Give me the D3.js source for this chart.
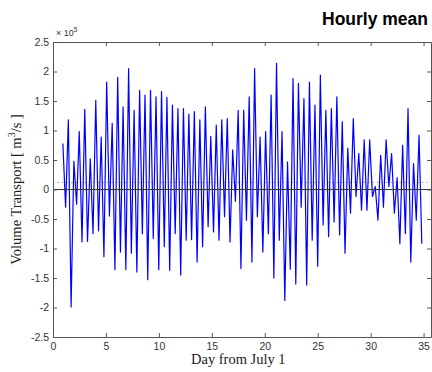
<!DOCTYPE html>
<html lang="en">
<head>
    <meta charset="UTF-8">
    <title>Hourly mean</title>
    <style>
        body { margin: 0; padding: 0; background: #fff; }
        svg { display: block; }
        .tick-label { font-family: Arial, "Liberation Sans", sans-serif; font-size: 10.5px; fill: #333; }
        .axis-title { font-family: "Liberation Serif", "DejaVu Serif", serif; font-size: 14.5px; fill: #222; }
        .title { font-family: Arial, "Liberation Sans", sans-serif; font-size: 17.5px; font-weight: 700; fill: #000; }
    </style>
</head>
<body>
    <svg id="chart" width="432" height="372"></svg>

    <script src="https://cdnjs.cloudflare.com/ajax/libs/d3/7.9.0/d3.min.js"></script>
    <script>
        // turning points of the hourly series (x 10^5 m^3/s)
        const peakDay = [0.93, 1.45, 1.97, 2.48, 3.00, 3.52, 4.04, 4.55, 5.07, 5.59, 6.11, 6.62,
            7.14, 7.66, 8.18, 8.69, 9.21, 9.73, 10.25, 10.76, 11.28, 11.80, 12.32, 12.83,
            13.35, 13.87, 14.39, 14.90, 15.42, 15.94, 16.46, 16.97, 17.49, 18.01, 18.53, 19.04,
            19.56, 20.08, 20.60, 21.11, 21.63, 22.15, 22.67, 23.18, 23.70, 24.22, 24.74, 25.25,
            25.77, 26.29, 26.81, 27.32, 27.84, 28.36, 28.88, 29.39, 29.91, 30.43, 30.95, 31.46,
            31.98, 32.50, 33.02, 33.53, 34.05, 34.57];
        const peakVal = [0.78, 1.18, 0.48, 0.98, 1.36, 0.52, 1.51, 0.89, 1.82, 1.12, 1.90, 1.40,
            2.05, 1.34, 1.68, 1.60, 1.68, 1.57, 1.66, 1.56, 1.43, 1.37, 1.37, 1.28,
            1.32, 1.18, 1.40, 0.90, 1.09, 1.18, 1.20, 0.67, 1.34, 1.34, 1.57, 2.05,
            0.89, 0.98, 1.60, 2.14, 0.98, 0.47, 1.88, 1.80, 1.54, 1.82, 1.43, 1.94,
            1.34, 1.37, 1.57, 1.15, 0.70, 1.20, 0.61, 0.84, 0.84, 0.05, 0.58, 0.84,
            0.61, 0.20, 0.75, 1.37, 0.44, 0.92];
        const troughDay = [1.19, 1.71, 2.23, 2.74, 3.26, 3.78, 4.30, 4.81, 5.33, 5.85, 6.37, 6.88,
            7.40, 7.92, 8.44, 8.95, 9.47, 9.99, 10.51, 11.02, 11.54, 12.06, 12.58, 13.09,
            13.61, 14.13, 14.65, 15.16, 15.68, 16.20, 16.72, 17.23, 17.75, 18.27, 18.79, 19.30,
            19.82, 20.34, 20.86, 21.37, 21.89, 22.41, 22.93, 23.44, 23.96, 24.48, 25.00, 25.51,
            26.03, 26.55, 27.07, 27.58, 28.10, 28.62, 29.14, 29.65, 30.17, 30.69, 31.21, 31.72,
            32.24, 32.76, 33.28, 33.79, 34.31, 34.83];
        const troughVal = [-0.30, -1.99, -0.25, -0.89, -0.88, -0.75, -0.70, -1.14, -0.45, -1.36, -1.06, -1.36,
            -1.08, -1.40, -0.75, -1.53, -0.83, -1.36, -0.97, -1.37, -0.75, -1.45, -0.86, -0.85,
            -1.23, -0.97, -0.63, -0.72, -0.86, -0.46, -0.89, -0.20, -1.34, -0.52, -1.23, -0.46,
            -1.06, -0.75, -1.50, -0.86, -1.88, -1.35, -1.60, -0.30, -1.62, -0.86, -1.30, -0.60,
            -0.80, -0.55, -0.77, -1.08, -0.40, -0.12, -0.35, -0.35, -0.12, -0.52, -0.30, 0.05,
            -0.40, -0.92, -0.75, -1.23, -0.52, -0.92];
        const meanVal = 0.12;

        const xTicks = [0, 5, 10, 15, 20, 25, 30, 35];
        const yTicks = [-2.5, -2, -1.5, -1, -0.5, 0, 0.5, 1, 1.5, 2, 2.5];

        const mLeft = 53, mRight = 431, mTop = 42, mBottom = 337;

        const svg = d3.select('#chart');

        const x = d3.scaleLinear().domain([0, 35.7]).range([mLeft, mRight]);
        const y = d3.scaleLinear().domain([-2.5, 2.5]).range([mBottom, mTop]);

        // merge peaks and troughs into one time ordered series
        const series = [];
        peakDay.forEach((d, i) => {
            series.push([d, peakVal[i]]);
            series.push([troughDay[i], troughVal[i]]);
        });
        series.sort((a, b) => a[0] - b[0]);

        svg.append('rect')
            .attr('width', 432).attr('height', 372).attr('fill', '#fff');

        // mean (dotted) and zero line
        svg.append('line')
            .attr('x1', mLeft).attr('x2', mRight)
            .attr('y1', y(meanVal)).attr('y2', y(meanVal))
            .attr('stroke', '#9a9a9a').attr('stroke-width', 1)
            .attr('stroke-dasharray', '1.5,3');

        svg.append('path')
            .datum(series)
            .attr('fill', 'none')
            .attr('stroke', '#0000ff')
            .attr('stroke-width', 1.2)
            .attr('stroke-linejoin', 'round')
            .attr('d', d3.line().x(d => x(d[0])).y(d => y(d[1])));

        svg.append('line')
            .attr('x1', mLeft).attr('x2', mRight)
            .attr('y1', y(0)).attr('y2', y(0))
            .attr('stroke', '#333').attr('stroke-width', 1.2);

        // axes, MATLAB style box with inward ticks
        const tickLen = 4;
        const fmt = d => String(d);
        svg.append('g')
            .attr('transform', `translate(0,${mBottom})`)
            .call(d3.axisBottom(x).tickValues(xTicks).tickFormat(fmt).tickSizeInner(-tickLen).tickSizeOuter(0).tickPadding(6))
            .call(g => g.selectAll('text').attr('class', 'tick-label').attr('font-size', null).attr('font-family', null));
        svg.append('g')
            .attr('transform', `translate(0,${mTop})`)
            .call(d3.axisTop(x).tickValues(xTicks).tickSizeInner(-tickLen).tickSizeOuter(0).tickFormat(''));
        svg.append('g')
            .attr('transform', `translate(${mLeft},0)`)
            .call(d3.axisLeft(y).tickValues(yTicks).tickFormat(fmt).tickSizeInner(-tickLen).tickSizeOuter(0).tickPadding(4))
            .call(g => g.selectAll('text').attr('class', 'tick-label').attr('font-size', null).attr('font-family', null));
        svg.append('g')
            .attr('transform', `translate(${mRight},0)`)
            .call(d3.axisRight(y).tickValues(yTicks).tickSizeInner(-tickLen).tickSizeOuter(0).tickFormat(''));

        svg.selectAll('.domain, .tick line').attr('stroke', '#555');

        // exponent
        const expo = svg.append('text')
            .attr('class', 'tick-label')
            .attr('x', mLeft + 3).attr('y', mTop - 6)
            .style('font-size', '9px');
        expo.append('tspan').text('\u00d7 10');
        expo.append('tspan').attr('dy', -4).style('font-size', '6.5px').text('5');

        // titles
        svg.append('text')
            .attr('class', 'title')
            .attr('x', 428).attr('y', 25)
            .attr('text-anchor', 'end')
            .text('Hourly mean');

        svg.append('text')
            .attr('class', 'axis-title')
            .attr('x', (x(0) + x(35)) / 2).attr('y', 364)
            .attr('text-anchor', 'middle')
            .text('Day from July 1');

        const yt = svg.append('text')
            .attr('class', 'axis-title')
            .attr('transform', `translate(21,${(mTop + mBottom) / 2}) rotate(-90)`)
            .attr('text-anchor', 'middle');
        yt.append('tspan').text('Volume Transport  [ m');
        yt.append('tspan').attr('dy', -6).style('font-size', '10px').text('3');
        yt.append('tspan').attr('dy', 6).text('/s ]');
    </script>
</body>
</html>
